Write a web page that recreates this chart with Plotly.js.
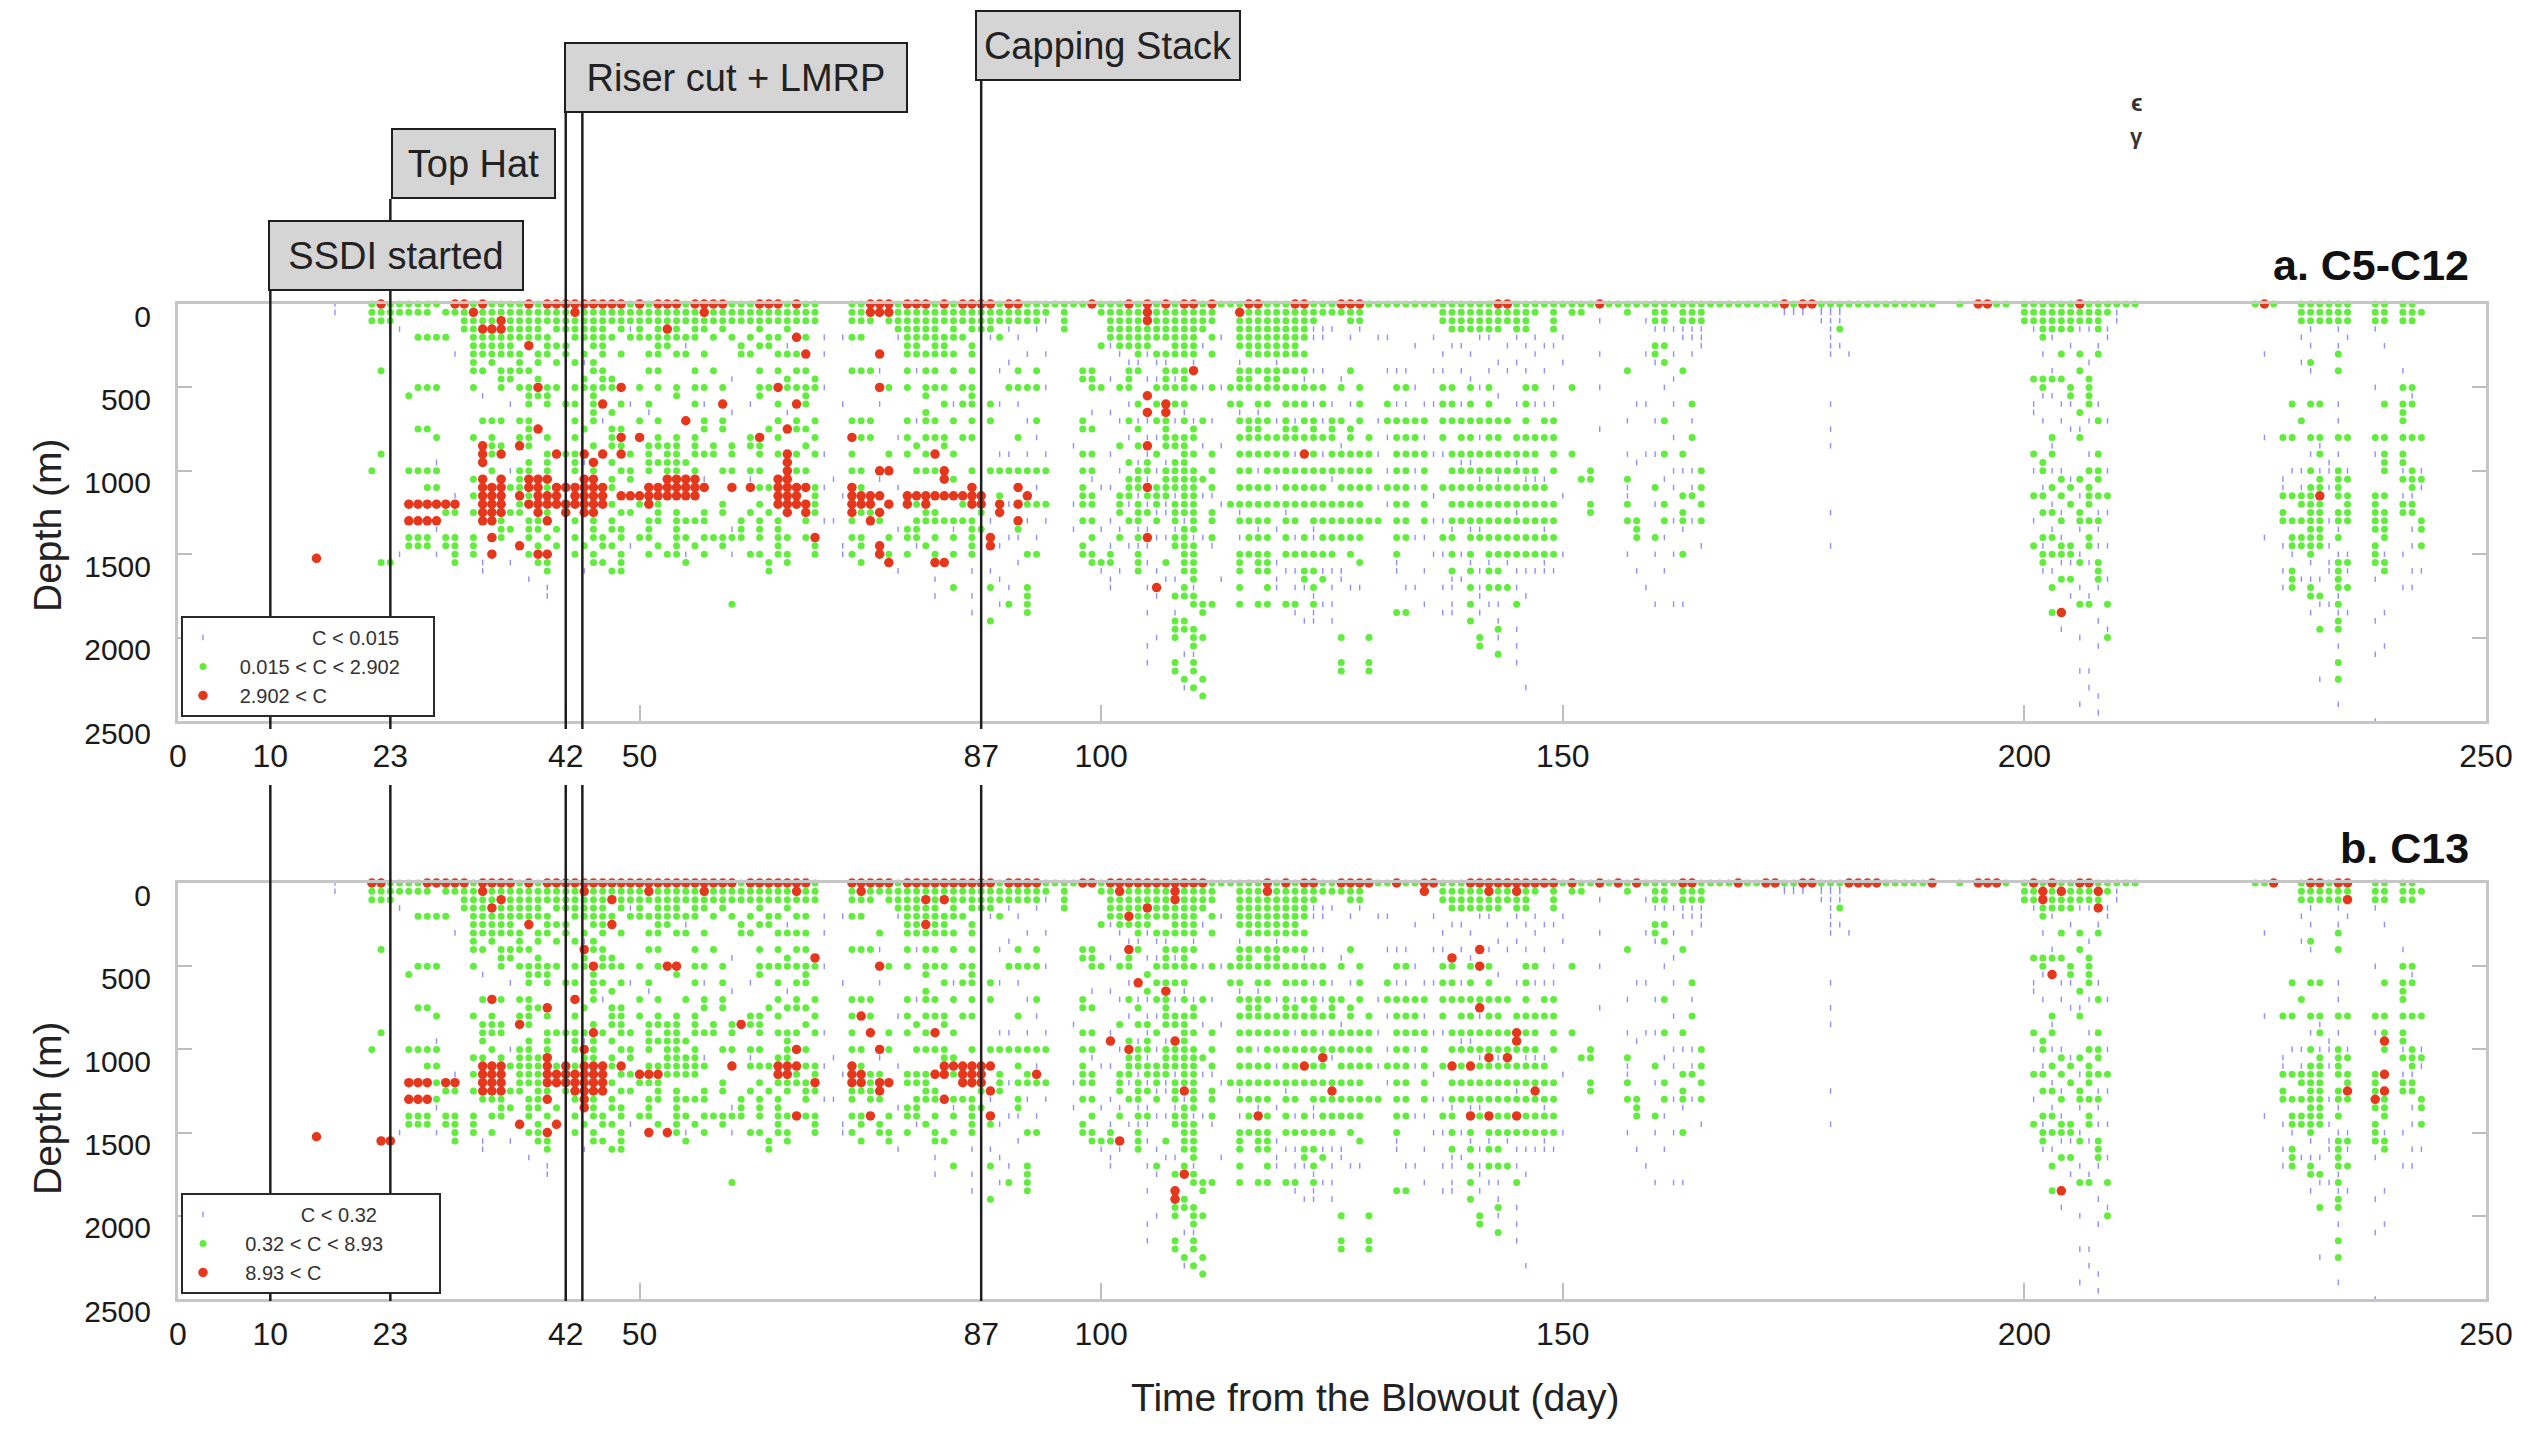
<!DOCTYPE html>
<html><head><meta charset="utf-8">
<script src="https://cdn.plot.ly/plotly-3.0.1.min.js"></script>
<style>html,body{margin:0;padding:0;background:#fff}#chart{width:2533px;height:1446px}</style>
</head><body><div id="chart"></div>
<script>
// ---------- DATA ----------
const xTickVals = [0, 10, 23, 42, 50, 87, 100, 150, 200, 250];
const yTickVals = [0, 500, 1000, 1500, 2000, 2500];
const eventDays = [10, 23, 42, 43.8, 87];
const eventLabels = ["SSDI started", "Top Hat", "Riser cut + LMRP", "Capping Stack"];
const legendA = ["C < 0.015", "0.015 < C < 2.902", "2.902 < C"];
const legendB = ["C < 0.32", "0.32 < C < 8.93", "8.93 < C"];
const panelTitles = ["a. C5-C12", "b. C13"];

// Columns: "day(s): depth depth ..." (days from blowout, depth in m)
const A_green = [
"21: 0 50 100 1000","22: 0 50 100 400 900 1550","23: 0 50 100 1550","24: 0 50",
"25: 0 50 550 1000 1400 1450","26: 0 50 200 500 750 1000 1400 1450","27: 0 50 200 500 750 1000 1100 1400 1450",
"28: 0 200 500 800 1000 1100","29: 50 200 1250 1400 1450","30: 50 1250 1400 1450 1500 1550","31: 0 50 100 150",
"32: 0 100 150 200 250 300 350 400 500 800 1050 1150 1250 1400 1450 1500",
"33: 0 50 100 200 250 300 400 700",
"34: 0 50 100 200 250 300 350 700 800 850 900 1000",
"35: 0 50 200 250 300 400 450 500 700 850 1300 1350 1400",
"36: 0 50 100 150 200 250 300 400 450 1100 1250 1350",
"37: 0 50 100 150 200 300 350 400 500 700 800 1000 1050 1100 1200 1250",
"38: 0 50 100 150 200 400 500 550 600 700 750 800 850 950 1000 1150 1300 1350 1400 1500",
"39: 0 50 100 150 200 300 350 450 550 1300 1350 1450 1550",
"40: 0 50 100 200 250 300 500 550 600 800 900 950 1000 1100 1250 1400 1550 1600",
"41: 0 50 100 150 250 350 500 1350 1450",
"42: 0 50 100 150 250 300 600 900",
"43: 0 100 150 200 350 500 600 700 800 900 950 1000 1300 1400 1500",
"44: 0 50 100 150 200 300 450 500 750 1450",
"45: 0 50 100 150 200 250 350 400 500 550 600 650 700 850 1000 1300 1350 1400 1500 1550",
"46: 0 50 100 150 200 250 300 400 450 500 1400 1450 1550",
"47: 0 50 100 200 450 500 650 750 800 850 950 1050 1100 1200 1300 1350 1450 1600",
"48: 0 50 100 150 300 600 750 850 1000 1250 1350 1400 1500 1550 1600",
"49: 0 50 100 200 900 1000 1050 1250",
"50: 0 50 100 150 200 500 700 1200 1400",
"51: 0 50 100 200 300 400 600 850 900 950 1000 1300 1350 1400 1500",
"52: 0 50 100 150 200 250 300 400 500 700 800 850 950 1200 1250 1300 1450",
"53: 0 50 100 200 250 850 900 950 1000 1500",
"54: 0 50 100 150 200 300 500 550 800 850 900 950 1000 1250 1300 1350 1400 1450 1500",
"55: 0 50 100 200 300 950 1300 1400 1550",
"56: 0 50 100 150 200 400 500 600 800 850 900 1000 1300 1450",
"57: 0 100 150 300 500 700 750 900 1250 1300 1400 1500",
"58: 0 50 100 200 400 850 900 1400",
"59: 0 50 100 150 500 700 750 1000 1200 1250 1400 1450",
"60: 0 50 100 200 850 900 1000 1400 1800",
"61: 0 50 100 250 300 1300 1350 1400",
"62: 0 50 100 200 300 800 850 1000 1250 1500",
"63: 0 50 100 150 250 400 500 550 850 900 1000 1100 1200 1300 1350 1400 1500",
"64: 0 50 100 200 250 500 750 1100 1250 1550 1600",
"65: 0 50 100 200 300 400 600 700 800 900 1300 1350 1400 1450 1500",
"66: 0 50 100 150 300 450 500 1400 1500 1550",
"67: 0 50 100 300 400 500 700 750 900 1000",
"68: 0 50 100 200 400 500 550 600 750 850 1000 1300 1400",
"69: 0 50 100 450 500 700 800 900 1100 1150 1200 1250 1450 1500",
"73: 0 50 100 200 400 700 900 1000 1300 1400 1500",
"74: 0 50 100 200 400 700 800 1000 1100 1250 1400 1450 1550",
"75: 0 100 400 700 800 1250","76: 0 1300","77: 0 100 500 900 1400 1500","78: 0 50 100 150",
"79: 0 50 100 150 200 250 300 400 500 700 800 900 1350 1400 1500",
"80: 0 50 100 150 200 250 300 850 1000 1200 1300 1350 1400",
"81: 0 50 100 150 200 300 400 500 550 650 700 800 900 1000 1250 1300 1450",
"82: 0 50 100 150 200 250 300 400 500 700 800 1000 1250 1300 1400 1500",
"83: 0 50 100 200 250 300 500 600 800 850 1300",
"84: 0 50 100 150 200 300 400 700 900 1050 1300 1400 1500 1700",
"85: 0 50 100 200 500 600 800 1200 1300",
"86: 0 50 100 150 250 300 400 500 550 600 700 800 1000 1300 1350 1400 1450 1500",
"87: 0 50 100 150 1250 1350",
"88: 0 50 100 150 600 700 1000 1700 1900","89: 0 50 100 200 1000 1150","90: 0 50 100 500 1000 1800",
"91: 0 50 100 400 500 800 1000 1350","92: 0 50 100 500 1000 1200 1500 1700 1750 1800 1850",
"93: 0 50 100 400 500 700 1000 1200 1500","94: 0 50 1000 1200","95: 0","96: 0 50 100 150","97: 0",
"98: 0 400 450 700 750 900 1000 1100 1150 1200 1300 1450 1500",
"99: 400 450 500 750 900 1000 1150 1200 1300 1400 1500 1550",
"100: 0 50 250 500 1550","101: 0 50 100 150 200 1500 1550",
"102: 0 50 100 150 200 250 500 850 1150 1200 1250 1400",
"103: 0 50 100 150 200 250 400 450 500 700 950 1050 1100 1150 1300",
"104: 0 50 100 150 200 250 300 400 600 750 850 1000 1050 1100 1200 1250 1300 1400 1500 1550 1600",
"105: 0 150 200 250 950 1000 1150 1250",
"106: 0 50 100 150 200 300 500 600 700 900 1100 1150 1200 1300",
"107: 50 100 150 200 300 400 450 500 700 750 800 850 1000 1050 1100 1150 1550",
"108: 0 50 100 150 200 250 300 400 500 600 800 850 950 1000 1050 1100 1200 1250 1300 1400 1450 1750 1900 1950 2000 2150 2200",
"109: 50 100 150 200 250 300 400 450 500 600 700 800 850 900 950 1000 1050 1100 1150 1200 1250 1350 1400 1450 1500 1550 1600 1700 1750 1900 1950 2250",
"110: 50 100 150 200 250 300 500 750 800 900 1000 1050 1100 1150 1200 1250 1300 1350 1450 1500 1550 1600 1650 1750 1800 1950 2000 2050 2150 2200 2300",
"111: 0 50 100 150 700 1050 1800 1850 2000 2250 2350",
"112: 50 100 200 300 500 900 1000 1100 1250 1300 1400 1800",
"113: 0","114: 0 500 600 1200",
"115: 0 100 150 200 250 400 450 500 600 700 800 900 1000 1100 1200 1300 1500 1550 1600 1700 1800",
"116: 50 100 150 200 250 300 400 450 500 700 750 800 900 1000 1100 1200 1300 1400 1500",
"117: 50 100 150 200 250 300 400 500 600 700 750 800 900 1100 1200 1300 1400 1500 1550 1600 1800",
"118: 0 50 100 150 200 250 300 400 450 500 600 700 800 900 1000 1100 1200 1300 1400 1500 1550 1600 1700 1800",
"119: 0 50 100 150 200 250 300 400 450 500 800 900 1000 1200",
"120: 0 50 100 150 200 250 300 400 500 600 700 750 800 900 1000 1100 1200 1300 1400 1500 1800",
"121: 50 100 150 200 250 300 400 500 600 750 800 1000 1100 1200 1300 1500 1800",
"122: 50 100 150 200 300 400 500 600 700 800 1000 1100 1200 1400 1500 1600 1650",
"123: 0 50 100 500 700 750 800 900 1000 1100 1200 1300 1500 1600 1700 1800",
"124: 0 50 500 600 800 1000 1100 1200 1300 1400 1500 1650",
"125: 0 50 700 750 800 900 1000 1200 1300 1400 1500",
"126: 50 500 700 900 1000 1100 1200 1300 1400 2000 2150 2200",
"127: 50 100 400 750 800 900 1000 1100 1200 1300 1400 1500",
"128: 50 100 500 600 700 900 1000 1100 1200 1300 1400 1550",
"129: 0 800 900 1000 1100 1300 2000 2150 2200",
"130: 0 1300","131: 0 600 700 1100",
"132: 0 500 700 800 900 1000 1100 1200 1300 1400 1500 1850",
"133: 0 500 700 800 900 1000 1100 1200 1300 1400 1850",
"134: 0 700 800 900","135: 0 700 900 1000 1100 1200 1300","136: 0",
"137: 0 50 100 500 600 700 800 1100 1400",
"138: 0 50 100 150 500 600 700 900 1000 1100 1200 1300 1400 1500 1600",
"139: 0 50 100 150 700 800 900 1000 1100 1200 1300",
"140: 0 50 100 150 500 600 700 800 900 1000 1100 1200 1300 1400 1500 1600 1700 1800 1900",
"141: 0 50 100 150 700 900 1000 1100 1200 1300 1400 2000 2050",
"142: 0 50 100 150 500 600 700 800 900 1000 1100 1200 1300 1400 1500 1600 1700",
"143: 50 100 150 700 800 900 1000 1100 1200 1300 1400 1500 1600 1700 1950 2100",
"144: 50 100 700 900 1000 1100 1200 1300 1400 1500 1700",
"145: 0 50 100 150 800 900 1000 1100 1200 1300 1400 1500 1800",
"146: 0 50 100 150 500 600 700 800 900 1000 1100 1200 1300 1400 1500",
"147: 0 50 500 800 900 1000 1100 1200 1300 1400 1500",
"148: 0 700 800 1100 1200 1300 1400 1500",
"149: 0 50 100 150 700 800 900 1000 1200 1300 1400 1500",
"150: 0","151: 0 50 500 900","152: 0 50 1050","153: 0 1000 1050 1200 1250","155,156: 0",
"157: 0 50 400 1050 1200 1300","158: 0 1300 1350 1400","159: 0",
"160: 0 50 100 250 300 1100 1400","161: 0 50 100 250 350 700 900 1200 1300","162: 0",
"163: 0 50 100 400 900 1150 1250 1300 1500","164: 0 50 100 600 800 1150","165: 0 50 100 1000 1100 1200 1300",
"166,167,168,169,170,171,172,173,175,178,179,181,182,183,184,185,186,187,188,189,190,193,197,198: 0",
"180: 0 150","200: 0 50 100",
"201: 0 50 100 450 900 1150 1450",
"202: 0 50 100 150 200 450 500 950 1000 1150 1250 1400 1500 1550",
"203: 0 50 100 150 450 800 900 1100 1250 1400 1500 1700 1850",
"204: 0 50 100 150 300 450 1050 1150 1300 1450 1500 1650",
"205: 0 50 100 150 500 550 1100 1200 1450 1500 1650",
"206: 0 50 100 300 400 650 800 1050 1250 1300 1550 1800",
"207: 0 50 100 450 500 550 600 1000 1100 1150 1200 1300 1400 1450 1800",
"208: 0 50 100 150 300 700 900 1000 1050 1150 1300 1550 1600 1650",
"209: 0 50 1150 1800 2000","210,211,212: 0","225,227: 0",
"228: 800 1150 1250 1300","229: 600 800 1150 1300 1400 1450 1600 1650 1700",
"230: 0 50 100 700 1150 1200 1300 1400 1450",
"231: 0 50 100 350 600 800 1000 1100 1150 1200 1250 1300 1350 1400 1450 1500 1700 1750",
"232: 0 50 100 600 800 900 1050 1100 1200 1250 1300 1350 1400 1450 1750 1950",
"233: 0 50 100",
"234: 0 50 100 300 400 800 1000 1050 1100 1150 1250 1300 1400 1550 1600 1650 1700 1800 1900 1950 2150 2250",
"235: 0 50 100 800 1050 1150 1200 1250 1300 1550 1700",
"238: 0 50 100 800 1150 1200 1250 1300 1350 1450 1500 1550",
"239: 0 50 100 600 800 900 950 1000 1150 1250 1300 1350 1400 1550 1600",
"241: 0 50 100 500 600 650 700 800 900 950 1050 1200 1250",
"242: 0 50 100 500 600 800 1000 1050 1100 1200 1250",
"243: 50 800 1050 1300 1350 1450"
];

const A_red = [
"22,30,31,33,38,40,41,42,43,44,45,46,47,48,50,52,53,54,56,57,58,59,63,64,65,67,75,76,77,79,80,81,83,85,86,87,88,90,91,99,103,105,107,109,110,112,116,117,121,122,126,127,128,143,144,154,174,176,177,195,196,206,226: 0",
"15: 1525","25,26,27,28: 1200 1300","29: 1200","30: 1200","32: 50",
"33: 150 850 900 950 1050 1100 1150 1200 1250 1300","34: 150 1100 1150 1200 1250 1300 1400 1500",
"35: 100 150 900 1050 1100 1150 1200 1250","37: 850 1150 1450","38: 250 1050 1100 1200",
"39: 500 750 1050 1100 1150 1200 1250 1500","40: 1050 1150 1200 1300 1500","41: 900 1100 1150 1200",
"42: 1100 1200 1250","43: 50 1100 1150 1200","44: 900 1050 1100 1150 1200 1250","45: 950 1050 1100 1150 1200 1250",
"46: 600 900 1100 1150 1200","48: 500 800 900 1150","49: 1150","50: 800 1150","51: 1100 1150 1200","52: 1100 1150",
"53: 150 1050 1100 1150","54: 1050 1100 1150","55: 700 1050 1100 1150","56: 1050 1100 1150","57: 50 1100",
"59: 600","60: 1100","62: 1100","63: 800","65: 500 1050 1100 1150 1200","66: 750 900 950 1000 1050 1100 1150 1200 1250",
"67: 200 600 1100 1150 1200","68: 300 1100 1200 1250","69: 1400","73: 800 1100 1150 1200 1250","74: 1150 1200",
"75: 50 1150 1200 1300","76: 50 300 500 1000 1150 1250 1450 1500","77: 50 1000 1200 1550","79: 1150 1200","80: 1150",
"81: 1150 1200","82: 900 1150 1550","83: 1000 1050 1150 1550","84,85: 1150","86: 1100 1150 1200","87: 1150 1200",
"88: 1400 1450","89: 1200 1250","91: 1100 1200 1300","92: 1150","105: 50 100 550 650 850 1100 1400","106: 1700",
"107: 600 650","110: 400","115: 50","122: 900","204: 1850","232: 1150"
];

// low-concentration samples (same casts in both panels)
const AB_blue = [
"17: 0 50","24: 150 1500","28: 950 1350 1500","30: 300 1150 1450","33: 550 1550 1600","36: 600 1000 1550","38: 1650",
"40: 1700 1750","42: 400 800 1250 1500","44: 350 950 1150 1600","46: 700 1200","49: 150 600 1150 1450","51: 650 1100",
"53: 1050 1150","55: 250 700 1500","57: 600 1050","60: 450 650 1350 1500","62: 600 1050","66: 250 650 1200",
"70: 200 300 500 900 1100 1300","71: 1050 1300","72: 200 600 1150 1450 1500","76: 400 600 1050 1500",
"78: 200 800 1100 1350 1600","80: 400 700 1450","82: 1550 1650 1750","84: 600 1150 1350","86: 1600 1750 1850","87: 500 900",
"88: 200 700 1000 1300 1600 1700","89: 400 600 900 1200 1450 1650 1800","90: 150 350 900 1200 1400 1700",
"91: 200 600 800 1100 1400 1550","92: 100 300 500 700 900 1300 1500 1700","93: 150 800 1100 1400","94: 100 300 500 900 1300",
"97: 850 1200 1350","99: 650 1050","100: 1100 1350 1600","101: 250 450 650 900 1100 1300 1450 1650 1700",
"102: 300 700 1000 1350 1600","103: 350 600 800 1200 1450","104: 350 700 950 1150 1350 1450",
"105: 300 450 700 800 900 1050 1200 1350 1450 1550 1700 1850 2050 2150","106: 350 450 800 1000 1250 1400 1600 1750 2000",
"107: 350 650 950 1200 1250 1400 1650","108: 450 700 1150 1350 1650 1850","109: 650 1300 2100 2300","110: 350 700 1400 1700 2100",
"111: 250 500 850 1150 1400","112: 700 1150 1450","113: 200 500 850 1200 1650","115: 350 650 1250 1400","117: 650 1000 1350",
"119: 350 700 1100 1350 1550 1650 1700","120: 1250 1600","121: 400 700 900 1400 1600 1700 1850","122: 300 450 1700 1900",
"123: 100 150 200 400 600 1350 1400 1750 1850 1900","124: 150 200 400 700 900 1600 1800","125: 150 600 1050 1600 1700 1800 1900",
"126: 450 850 1600 1650","127: 200 600 1700","128: 150 600 1300 1700","130: 200 700 900 1100","131: 200 400 800 1000 1200",
"132: 400 600 1300 1550 1600","133: 400 600 1000 1300 1400 1700","134: 250 500 700 1000 1100 1400 1700","135: 600 800 1400 1600 1800",
"136: 200 400 600 900 1150 1300 1500","137: 300 400 600 900 1300 1500 1700 1850","138: 250 1000 1350 1650 1700 1800 1850",
"139: 250 400 600 950 1500 1650","140: 300 450 950 1350 1550","141: 200 500 800 1050 1350 1600 1700 1750 1850",
"142: 200 400 1000 1550 1700 1800","143: 350 550 1050 1500 1800 1900 2000","144: 250 400 700 1000 1550 1700",
"145: 200 350 600 950 1250 1600 1700 1950 2050 2150","146: 250 400 700 1050 1600 1750 2300","147: 200 300 600 1050 1600",
"148: 250 400 600 1050 1350 1550 1600","149: 250 500 600 1600","150: 200 350 1150 1500","154: 100 300 500 750",
"157: 400 700 900 1100 1150 1500","158: 600 950 1300 1600","159: 100 300 600 900 1700","160: 150 350 700 900 1200 1500 1800",
"161: 150 350 500 700 1050 1400 1600","162: 150 300 450 600 800 1000 1100 1300 1500 1800","163: 150 200 1000 1350 1800",
"164: 150 200 300 700 1000 1100 1300","165: 150 200 250 1450","174,175,176: 20 50","178: 20 50 100",
"179: 20 50 100 150 200 250 300 600 750 850 1250 1450","180: 20 50 100 250","181: 300",
"201: 150 600 650 1000 1300 1450","202: 300 550 700 1100 1450 1600","203: 200 400 550 850 1000 1200 1350 1600",
"204: 300 600 700 1000 1250 1400 1550 1850 1950","205: 250 600 750 1050 1200 1550 1750",
"206: 150 300 750 1150 1350 1500 1700 1800 2000 2200 2400","207: 150 350 700 900 1100 1300 1550 1750 2200 2300",
"208: 250 600 1250 1350 1450 1550 1700 1900 2050 2350 2450","209: 150 200 700 1000 1250 1450 1650 1800 1950","210: 50 100",
"226: 300 800 1400","228: 1050 1100 1450 1600 1700","229: 1000 1150 1500","230: 200 350 1000 1100 1200 1650",
"231: 150 250 400 900 1250 1550 1650 1850","232: 850 1000 1100 1350 1650 1800 2250","233: 950 1000 1100 1300 1450 1550 1600 1800",
"234: 150 250 600 700 900 1100 1350 1500 1650 1750 1850 2050 2400","235: 200 1000 1500 1600 1850",
"238: 50 100 150 500 900 1200 1550 1650 1900 2100 2500","239: 250 1000 1150 1500 1850 2050","241: 400 1000 1150 1500 1700",
"242: 550 1000 1150 1350 1450 1600 1700","243: 1000 1100 1350 1600"
];

// C13 samples above the high threshold (panel b)
const B_red = [
"21,22,27,28,29,30,31,33,34,35,36,38,40,41,42,43,44,45,46,47,48,49,50,51,52,53,54,55,56,57,58,59,60,62,63,64,65,66,67,68,73,74,75,76,77,79,80,81,82,83,84,85,86,87,88,90,91,92,93,98,99,101,102,103,104,105,106,107,108,109,110,111,118,120,122,123,126,127,128,129,132,135,136,140,141,142,143,144,145,146,147,148,149,151,154,156,158,163,164,169,172,173,176,177,181,182,183,184,190,195,196,197,201,203,206,207,227,231,232,234,235: 0",
"15: 1525","22: 1550","23: 1550","25,26,27: 1200 1300","29,30: 1200","33: 50 1100 1150 1200 1250",
"34: 150 700 1100 1150 1200 1250","35: 100 1100 1150 1200 1250","37: 850 1450","38: 250",
"40: 750 1050 1100 1150 1200 1300 1500","41: 1150 1200 1450","42: 1100 1150 1200","43: 700 1150 1200 1250",
"44: 50 400 1000 1100 1150 1200 1250 1300 1350","45: 500 900 1100 1150 1200 1250","46: 1100 1150 1200 1250","47: 100 250",
"48: 1100","50: 1150","51: 50 1150 1500","52: 1150","53: 500 1500","54: 500","57: 50","60: 1100","61: 850","65: 1100 1150",
"66: 1100 1150","67: 50 1000 1100 1400","69: 450 1200","73: 1100 1150 1200","74: 50 800 1150 1200","75: 900 1400",
"76: 500 1000 1200 1250","77: 1200","81: 100 250","82: 900 1150","83: 100 1100 1150 1300","84: 1100","85: 1100 1150 1200",
"86: 1100 1150 1200","87: 1100 1150 1200","88: 1100 1250 1400","93: 1150","101: 950","102: 50 1550","103: 200 400 1000",
"104: 600","105: 150","107: 650","108: 50 100 950 1850 1900","109: 1250 1750","117: 1400","118: 50","122: 1100","124: 1050",
"125: 1250","135: 50","138: 450 1100","140: 1100 1400","141: 400 500 750","142: 50 1050 1400","144: 1050","145: 50 900 950 1400",
"147: 1250","202: 50 100","203: 550","204: 50 1850","208: 50 150","235: 100 1250","238: 1300","239: 950 1150 1250"
];

// ---------- PARSE ----------
function parseCols(cols) {
  const x = [], y = [];
  cols.forEach(s => {
    const parts = s.split(':');
    const days = parts[0].split(',').map(Number);
    const deps = parts[1].trim().split(/\s+/).map(Number);
    days.forEach(d => deps.forEach(z => { x.push(d); y.push(z); }));
  });
  return {x, y};
}
const aG = parseCols(A_green), aR = parseCols(A_red), blu = parseCols(AB_blue), bR = parseCols(B_red);
// Panel b: same casts; samples not above the C13 threshold are in the middle class
const redKeys = new Set(bR.x.map((d, i) => d + '|' + bR.y[i]));
const bG = {x: [], y: []}; const seen = new Set();
[aG, aR].forEach(s => s.x.forEach((d, i) => {
  const k = d + '|' + s.y[i];
  if (!redKeys.has(k) && !seen.has(k)) { seen.add(k); bG.x.push(d); bG.y.push(s.y[i]); }
}));

// ---------- STYLE ----------
const W = 2533, H = 1446;
const px = v => v / W, py = v => 1 - v / H;
const FONT = 'Liberation Sans, Arial, Helvetica, sans-serif';
const cBlue = 'rgba(95,95,255,0.7)', cGreen = '#62ec3e', cRed = '#e5371c';
const nb = n => '\u00a0'.repeat(n);

function mk(pt, name, color, kind, xa, ya, leg) {
  const base = {x: pt.x, y: pt.y, xaxis: xa, yaxis: ya, type: 'scatter', mode: 'markers', name: name,
    legend: leg, cliponaxis: false, hoverinfo: 'skip'};
  if (kind === 'blue') base.marker = {symbol: 'line-ns-open', size: 4, line: {color: color, width: 1.4}, color: color};
  if (kind === 'green') base.marker = {symbol: 'circle', size: 7, color: color, line: {width: 0}};
  if (kind === 'red') base.marker = {symbol: 'circle', size: 9.5, color: color, line: {width: 0}};
  return base;
}
const data = [
  mk(blu, nb(16) + legendA[0] + nb(5), cBlue, 'blue', 'x', 'y', 'legend'),
  mk(aG, nb(3) + legendA[1] + nb(5), cGreen, 'green', 'x', 'y', 'legend'),
  mk(aR, nb(3) + legendA[2], cRed, 'red', 'x', 'y', 'legend'),
  mk(blu, nb(14) + legendB[0] + nb(9), cBlue, 'blue', 'x2', 'y2', 'legend2'),
  mk(bG, nb(4) + legendB[1] + nb(9), cGreen, 'green', 'x2', 'y2', 'legend2'),
  mk(bR, nb(4) + legendB[2], cRed, 'red', 'x2', 'y2', 'legend2')
];

const xDom = [px(178), px(2486)];
const axX = (anchor) => ({domain: xDom, range: [0, 250], anchor: anchor, tickmode: 'array', tickvals: xTickVals,
  ticktext: xTickVals.map(String), ticks: 'inside', ticklen: 16, tickwidth: 2, tickcolor: '#bdbdbd',
  showline: true, linecolor: '#c6c6c6', linewidth: 3, mirror: true, showgrid: false, zeroline: false,
  tickfont: {family: FONT, size: 32, color: '#1a1a1a'}, ticklabelstandoff: 5});
const axY = (anchor, dom) => ({domain: dom, range: [2500, 0], anchor: anchor, tickmode: 'array', tickvals: yTickVals,
  ticks: 'inside', ticklen: 14, tickwidth: 2, tickcolor: '#bdbdbd', showline: true, linecolor: '#c6c6c6', linewidth: 3,
  mirror: 'ticks', showgrid: false, zeroline: false, tickfont: {family: FONT, size: 30, color: '#1a1a1a'},
  ticklabelstandoff: 18, ticklabelshift: -12});

// event lines
const boxBottoms = [291, 199, 113, 113, 81];
const shapes = [];
eventDays.forEach((d, i) => {
  shapes.push({type: 'line', xref: 'x', yref: 'paper', x0: d, x1: d, y0: py(boxBottoms[i]), y1: py(729), line: {color: '#1e1e1e', width: 2.5}});
  shapes.push({type: 'line', xref: 'x', yref: 'paper', x0: d, x1: d, y0: py(785), y1: py(1301), line: {color: '#1e1e1e', width: 2.5}});
});

const boxes = [[268, 220, 256, 71], [391, 128, 165, 71], [564, 42, 344, 71], [975, 10, 266, 71]];
const annotations = boxes.map((b, i) => ({xref: 'paper', yref: 'paper', x: px(b[0]), y: py(b[1]), xanchor: 'left', yanchor: 'top',
  text: eventLabels[i], showarrow: false, bgcolor: '#d5d5d5', bordercolor: '#1e1e1e', borderwidth: 2, borderpad: 0,
  width: b[2] - 4, height: b[3] - 4, align: 'center', valign: 'middle', font: {family: FONT, size: 38, color: '#222'}}));
annotations.push(
  {xref: 'paper', yref: 'paper', x: px(2470), y: py(265), xanchor: 'right', yanchor: 'middle', showarrow: false, borderpad: 0,
   text: '<b>' + panelTitles[0] + '</b>', font: {family: FONT, size: 43, color: '#111'}},
  {xref: 'paper', yref: 'paper', x: px(2470), y: py(848), xanchor: 'right', yanchor: 'middle', showarrow: false, borderpad: 0,
   text: '<b>' + panelTitles[1] + '</b>', font: {family: FONT, size: 43, color: '#111'}},
  {xref: 'paper', yref: 'paper', x: px(47), y: py(525), xanchor: 'center', yanchor: 'middle', showarrow: false, textangle: -90,
   text: 'Depth (m)', font: {family: FONT, size: 39, color: '#222'}},
  {xref: 'paper', yref: 'paper', x: px(47), y: py(1108), xanchor: 'center', yanchor: 'middle', showarrow: false, textangle: -90,
   text: 'Depth (m)', font: {family: FONT, size: 39, color: '#222'}},
  {xref: 'paper', yref: 'paper', x: px(1375), y: py(1397), xanchor: 'center', yanchor: 'middle', showarrow: false,
   text: 'Time from the Blowout (day)', font: {family: FONT, size: 39, color: '#222'}},
  {xref: 'paper', yref: 'paper', x: px(2136), y: py(103), xanchor: 'center', yanchor: 'middle', showarrow: false, borderpad: 0,
   text: '<b>ϵ</b>', font: {family: FONT, size: 24, color: '#333'}},
  {xref: 'paper', yref: 'paper', x: px(2136), y: py(136), xanchor: 'center', yanchor: 'middle', showarrow: false, borderpad: 0,
   text: '<b>γ</b>', font: {family: FONT, size: 22, color: '#333'}}
);

const legStyle = (top) => ({x: px(181), y: py(top), xanchor: 'left', yanchor: 'top', bgcolor: '#ffffff', bordercolor: '#2a2a2a',
  borderwidth: 2, font: {family: FONT, size: 20, color: '#333'}, itemwidth: 30, traceorder: 'normal', tracegroupgap: 0});

const layout = {
  width: W, height: H, margin: {l: 0, r: 0, t: 0, b: 0}, paper_bgcolor: '#fff', plot_bgcolor: '#fff',
  showlegend: true,
  xaxis: axX('y'), yaxis: axY('x', [py(721), py(304)]),
  xaxis2: axX('y2'), yaxis2: axY('x2', [py(1299), py(883)]),
  legend: legStyle(616), legend2: legStyle(1193),
  shapes: shapes, annotations: annotations
};
Plotly.newPlot('chart', data, layout, {displayModeBar: false, staticPlot: true});
</script>
</body></html>
